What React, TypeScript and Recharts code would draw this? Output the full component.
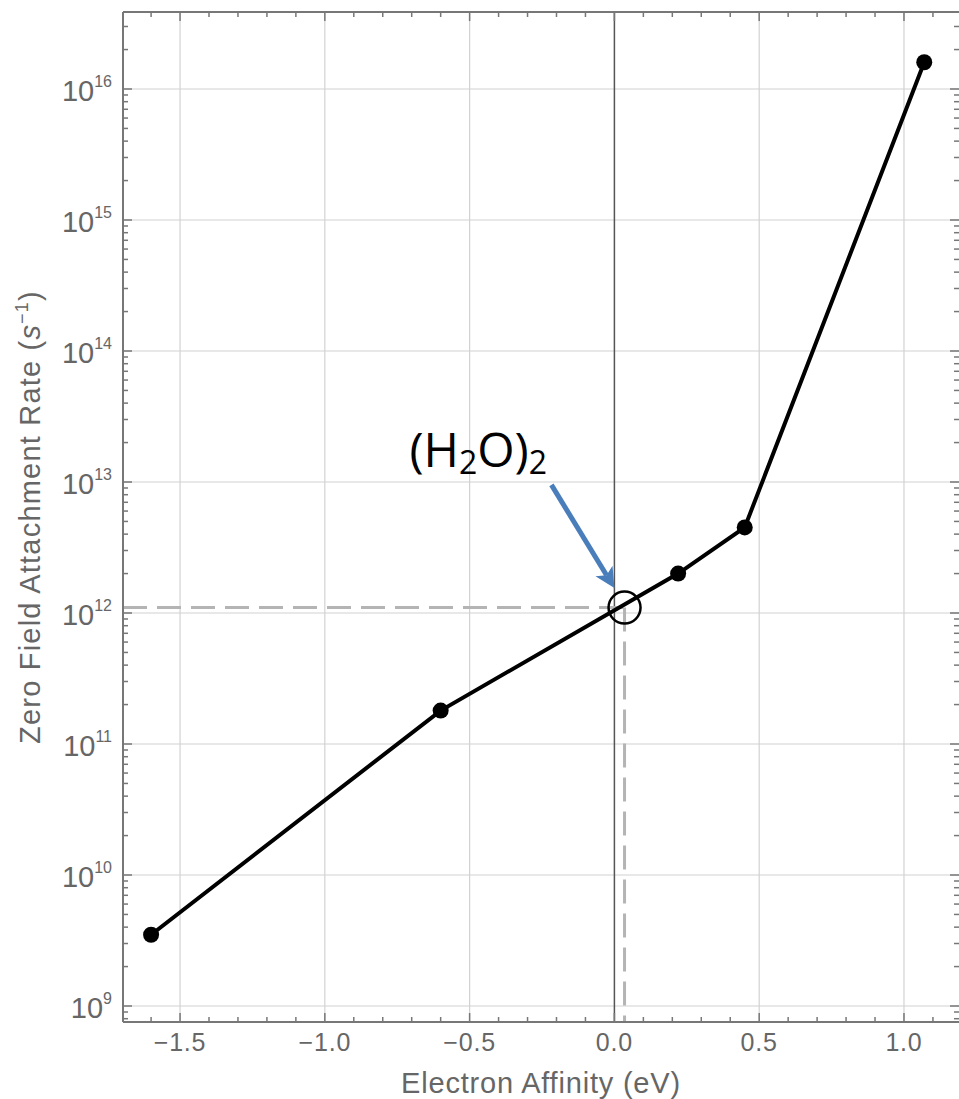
import React from "react";
import {
  ComposedChart,
  Line,
  XAxis,
  YAxis,
  ReferenceLine,
  ReferenceDot,
} from "recharts";

// measured attachment rates vs. electron affinity
const affinity = [-1.6, -0.6, 0.22, 0.45, 1.07];
const attachmentRate = [3.5e9, 1.8e11, 2.0e12, 4.5e12, 1.6e16];

// water dimer read-off point
const dimerAffinity = 0.035;
const dimerRate = 1.1e12;
const dimerLabel = { x: -0.708, y: 1.3e13 };
const arrowFrom = { x: -0.2175, y: 9.5e12 };
const arrowTo = { x: 0.0, y: 1.55e12 };

const xDomain: [number, number] = [-1.697, 1.19];
const yDomain: [number, number] = [7.55e8, 3.87e16];

const xTicks = [
  -1.6, -1.5, -1.4, -1.3, -1.2, -1.1, -1.0, -0.9, -0.8, -0.7, -0.6, -0.5,
  -0.4, -0.3, -0.2, -0.1, 0.0, 0.1, 0.2, 0.3, 0.4, 0.5, 0.6, 0.7, 0.8, 0.9,
  1.0, 1.1,
];
const xLabelled = [-1.5, -1.0, -0.5, 0.0, 0.5, 1.0];
const xGrid = [-1.5, -1.0, -0.5, 0.5, 1.0];

const decades = [8, 9, 10, 11, 12, 13, 14, 15, 16];
const mantissas = [1, 2, 3, 4, 5, 6, 7, 8, 9];
const yGrid = [1e9, 1e10, 1e11, 1e12, 1e13, 1e14, 1e15, 1e16];

const yTicks = decades
  .flatMap((d) => mantissas.map((m) => m * Math.pow(10, d)))
  .filter((v) => v >= yDomain[0] && v <= yDomain[1]);

const data = affinity.map((x, i) => ({ x, rate: attachmentRate[i] }));

// chart layout
const WIDTH = 959;
const HEIGHT = 1099;
const MARGIN = { top: 12, right: 0, bottom: 0, left: 0 };
const PLOT_TOP = MARGIN.top;
const PLOT_RIGHT = WIDTH - MARGIN.right;

const FONT = '"Liberation Sans", Arial, Helvetica, sans-serif';
const TEXT = "#666";
const FRAME = "#777";

const isMajorX = (v: number) => xLabelled.some((m) => Math.abs(m - v) < 1e-6);
const isDecade = (v: number) => {
  const l = Math.log10(v);
  return Math.abs(l - Math.round(l)) < 1e-6;
};

const fmtX = (v: number) =>
  v < -1e-9 ? `\u2212${Math.abs(v).toFixed(1)}` : Math.abs(v).toFixed(1);

// bottom ticks point into the frame; the matching top-edge tick is drawn too
const BottomTick = ({ x, y, payload }: any) => {
  const major = isMajorX(payload.value);
  const len = major ? 9 : 5;
  return (
    <g>
      <line x1={x} x2={x} y1={y} y2={y - len} stroke={FRAME} strokeWidth={1.5} />
      <line x1={x} x2={x} y1={PLOT_TOP} y2={PLOT_TOP + len} stroke={FRAME} strokeWidth={1.5} />
      {major && (
        <text
          x={x}
          y={y + 29}
          textAnchor="middle"
          fill={TEXT}
          fontSize={25}
          letterSpacing={0.8}
          fontFamily={FONT}
        >
          {fmtX(payload.value)}
        </text>
      )}
    </g>
  );
};

const LeftTick = ({ x, y, payload }: any) => {
  const major = isDecade(payload.value);
  const len = major ? 9 : 5;
  const exp = Math.round(Math.log10(payload.value));
  return (
    <g>
      <line x1={x} x2={x + len} y1={y} y2={y} stroke={FRAME} strokeWidth={1.5} />
      <line x1={PLOT_RIGHT} x2={PLOT_RIGHT - len} y1={y} y2={y} stroke={FRAME} strokeWidth={1.5} />
      {major && (
        <text x={x - 11} y={y + 12} textAnchor="end" fill={TEXT} fontFamily={FONT}>
          <tspan fontSize={29}>10</tspan>
          <tspan fontSize={16} dy={-14}>{exp}</tspan>
        </text>
      )}
    </g>
  );
};

const YTitle = ({ viewBox }: any) => {
  const cx = viewBox.x + 40;
  const cy = viewBox.y + viewBox.height / 2;
  return (
    <text
      x={cx}
      y={cy}
      transform={`rotate(-90, ${cx}, ${cy})`}
      textAnchor="middle"
      fill={TEXT}
      fontSize={29}
      letterSpacing={1.2}
      fontFamily={FONT}
    >
      Zero Field Attachment Rate (<tspan fontStyle="italic">s</tspan>
      <tspan fontSize={18} dy={-12}>{"\u22121"}</tspan>
      <tspan dy={12}>)</tspan>
    </text>
  );
};

const XTitle = ({ viewBox }: any) => (
  <text
    x={viewBox.x + viewBox.width / 2}
    y={viewBox.y + 71}
    textAnchor="middle"
    fill={TEXT}
    fontSize={29}
    letterSpacing={0.8}
    fontFamily={FONT}
  >
    Electron Affinity (eV)
  </text>
);

const Arrow = (props: any) => {
  const { x1, y1, x2, y2 } = props;
  const len = Math.hypot(x2 - x1, y2 - y1);
  const dx = (x2 - x1) / len;
  const dy = (y2 - y1) / len;
  const head = 20;
  const half = 10;
  const bx = x2 - dx * head;
  const by = y2 - dy * head;
  const nx = x2 - dx * (head - 5);
  const ny = y2 - dy * (head - 5);
  return (
    <g>
      <line x1={x1} y1={y1} x2={nx} y2={ny} stroke="#4a7ebb" strokeWidth={5} />
      <polygon
        points={`${x2},${y2} ${bx - dy * half},${by + dx * half} ${nx},${ny} ${bx + dy * half},${by - dx * half}`}
        fill="#4a7ebb"
      />
    </g>
  );
};

const DimerLabel = ({ cx, cy }: any) => (
  <text x={cx} y={cy} fill="#000" fontSize={48} fontFamily='"Open Sans", sans-serif'>
    (H<tspan fontSize={32} dy={7}>2</tspan>
    <tspan dy={-7}>O)</tspan>
    <tspan fontSize={32} dy={7}>2</tspan>
  </text>
);

export default function App() {
  return (
    <div style={{ position: "absolute", left: 0, top: 0 }}>
      <ComposedChart width={WIDTH} height={HEIGHT} data={data} margin={MARGIN}>
        <XAxis
          dataKey="x"
          type="number"
          domain={xDomain}
          ticks={xTicks}
          interval={0}
          allowDataOverflow
          height={77}
          tickSize={0}
          tickMargin={0}
          tickLine={false}
          tick={<BottomTick />}
          axisLine={{ stroke: FRAME, strokeWidth: 2 }}
          label={{ content: <XTitle /> }}
        />
        <YAxis
          type="number"
          scale="log"
          domain={yDomain}
          ticks={yTicks}
          interval={0}
          allowDataOverflow
          width={123}
          tickSize={0}
          tickMargin={0}
          tickLine={false}
          tick={<LeftTick />}
          axisLine={{ stroke: FRAME, strokeWidth: 2 }}
          label={{ content: <YTitle /> }}
        />

        {xGrid.map((v) => (
          <ReferenceLine key={`gx${v}`} x={v} stroke="#d2d2d2" strokeWidth={1.2} />
        ))}
        {yGrid.map((v) => (
          <ReferenceLine key={`gy${v}`} y={v} stroke="#d2d2d2" strokeWidth={1.2} />
        ))}
        <ReferenceLine x={0} stroke="#555" strokeWidth={1.5} />
        {/* top edge of the frame */}
        <ReferenceLine y={yDomain[1]} stroke={FRAME} strokeWidth={2} ifOverflow="visible" />

        <ReferenceLine
          segment={[
            { x: xDomain[0], y: dimerRate },
            { x: dimerAffinity, y: dimerRate },
          ]}
          stroke="#b4b4b4"
          strokeWidth={3}
          strokeDasharray="24 10"
        />
        <ReferenceLine
          segment={[
            { x: dimerAffinity, y: dimerRate },
            { x: dimerAffinity, y: yDomain[0] },
          ]}
          stroke="#b4b4b4"
          strokeWidth={3}
          strokeDasharray="24 10"
        />

        <Line
          dataKey="rate"
          type="linear"
          stroke="#000"
          strokeWidth={4}
          dot={{ r: 8, fill: "#000", stroke: "#000", strokeWidth: 0 }}
          activeDot={false}
          isAnimationActive={false}
        />

        <ReferenceDot
          x={dimerAffinity}
          y={dimerRate}
          r={16}
          fill="none"
          stroke="#000"
          strokeWidth={2.5}
        />
        <ReferenceLine
          segment={[arrowFrom, arrowTo]}
          shape={(p: any) => <Arrow {...p} />}
        />
        <ReferenceDot
          x={dimerLabel.x}
          y={dimerLabel.y}
          shape={(p: any) => <DimerLabel {...p} />}
        />
      </ComposedChart>
    </div>
  );
}
